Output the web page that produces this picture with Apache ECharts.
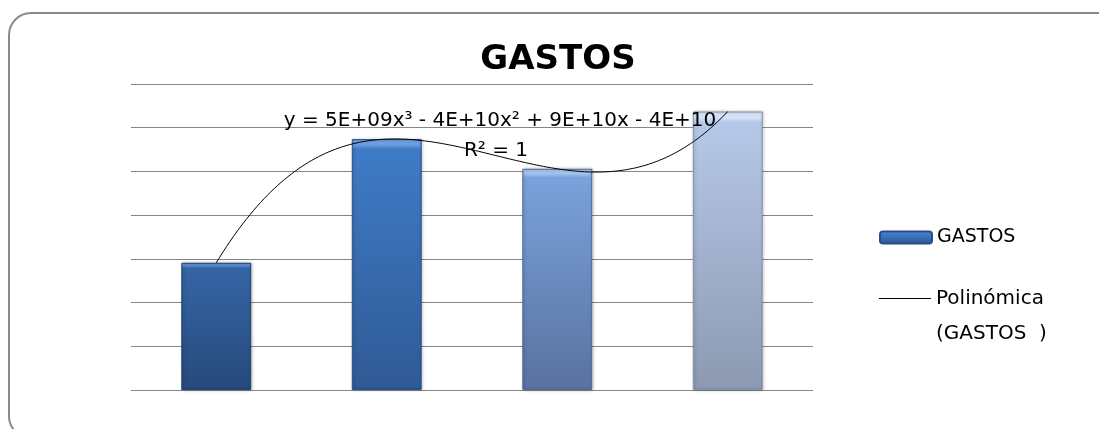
<!DOCTYPE html>
<html>
<head>
<meta charset="utf-8">
<script src="https://cdn.jsdelivr.net/npm/echarts@6/dist/echarts.min.js"></script>
<style>
html,body{margin:0;padding:0;background:#ffffff;}
#chart{width:1099px;height:429px;}
</style>
</head>
<body>
<div id="chart"></div>
<script>
// ---- data (values in thousands of millions) ----
const categories = ['1', '2', '3', '4'];
const gastos = [14.55, 28.7, 25.3, 31.85];
const seriesName = 'GASTOS';
const trendName = 'Polinómica (GASTOS  )';
const trendLegendLines = ['Polinómica', '(GASTOS  )'];
const titleText = 'GASTOS';
const equationText = 'y = 5E+09x³ - 4E+10x² + 9E+10x - 4E+10';
const r2Text = 'R² = 1';
const yMin = 0, yMax = 35, yStep = 5;

// ---- styles ----
const FONT = 'DejaVu Sans';
const barHighlight = ['#5b8dd0', '#6c9ee0', '#a3c1ec', '#d6e2f5'];
const barTop = ['#3465a6', '#3f7bc6', '#7aa2dc', '#b6c8e8'];
const barBottom = ['#27497a', '#2f5a95', '#59729f', '#8c99b1'];
const barEdge = ['#22406b', '#2a5187', '#51699a', '#8391aa'];

// polynomial (order 3) trendline: least squares fit of the bar values (exact for 4 points)
const xs = categories.map((_, i) => i + 1);
function trend(x) {
  let s = 0;
  for (let i = 0; i < xs.length; i++) {
    let p = gastos[i];
    for (let j = 0; j < xs.length; j++) {
      if (j !== i) p *= (x - xs[j]) / (xs[i] - xs[j]);
    }
    s += p;
  }
  return s;
}
const trendData = [];
for (let k = 0; k <= 150; k++) {
  const x = xs[0] + (xs[xs.length - 1] - xs[0]) * k / 150;
  trendData.push([x, trend(x)]);
}

const chart = echarts.init(document.getElementById('chart'), null, {renderer: 'canvas'});
chart.setOption({
  backgroundColor: '#ffffff',
  animation: false,
  title: {
    text: titleText,
    left: 558, top: 43, textAlign: 'center', padding: 0,
    textStyle: {fontFamily: FONT, fontWeight: 'bold', fontSize: 34, color: '#000000'}
  },
  legend: [
    {
      data: [seriesName], orient: 'vertical', left: 879, top: 228, padding: 0,
      itemWidth: 52, itemHeight: 12, itemGap: 0,
      textStyle: {fontFamily: FONT, fontSize: 19, color: '#000000'}
    },
    {
      data: [{name: trendName, icon: 'rect', itemStyle: {color: '#000000', borderWidth: 0}}],
      orient: 'vertical', left: 879, top: 246, padding: 0,
      itemWidth: 52, itemHeight: 1, itemGap: 0,
      formatter: function () { return ' \n' + trendLegendLines.join('\n'); },
      textStyle: {fontFamily: FONT, fontSize: 20, color: '#000000', lineHeight: 35}
    }
  ],
  grid: {left: 131, right: 286, top: 84, bottom: 39, containLabel: false},
  xAxis: [
    {type: 'category', data: categories, boundaryGap: true,
     axisLine: {show: false}, axisTick: {show: false}, axisLabel: {show: false}, splitLine: {show: false}},
    {type: 'value', min: 0.5, max: 4.5, show: false}
  ],
  yAxis: {
    type: 'value', min: yMin, max: yMax, interval: yStep,
    axisLine: {show: false}, axisTick: {show: false}, axisLabel: {show: false},
    splitLine: {show: true, lineStyle: {color: '#858585', width: 1}}
  },
  series: [
    {
      name: seriesName, type: 'bar', xAxisIndex: 0, barWidth: '41%', z: 2,
      itemStyle: {
        color: new echarts.graphic.LinearGradient(0, 0, 0, 1, [
          {offset: 0, color: '#6a9ee0'}, {offset: 0.25, color: '#3f7bc6'}, {offset: 1, color: '#2c5692'}
        ]),
        borderColor: '#264d85', borderWidth: 1
      },
      data: gastos.map((v, i) => ({
        value: v,
        itemStyle: {
          color: new echarts.graphic.LinearGradient(0, 0, 0, 1, [
            {offset: 0, color: barHighlight[i]},
            {offset: 0.022, color: barHighlight[i]},
            {offset: 0.04, color: barTop[i]},
            {offset: 1, color: barBottom[i]}
          ]),
          borderColor: barEdge[i], borderWidth: 1,
          shadowColor: 'rgba(0,0,0,0.25)', shadowBlur: 3, shadowOffsetX: 1, shadowOffsetY: 0
        }
      }))
    },
    {
      name: trendName, type: 'line', xAxisIndex: 1, z: 5,
      symbol: 'none', showSymbol: false, smooth: false,
      lineStyle: {color: '#000000', width: 1},
      itemStyle: {color: '#000000'},
      data: trendData
    }
  ],
  graphic: [
    {type: 'rect', silent: true, z: 0,
     shape: {x: 9, y: 13, width: 1110, height: 425, r: 22},
     style: {fill: null, stroke: '#8a8a8a', lineWidth: 2}},
    {type: 'text', silent: true, z: 10, x: 500, y: 121,
     style: {text: equationText, font: '20px "DejaVu Sans"', fill: '#000000', align: 'center', verticalAlign: 'middle'}},
    {type: 'text', silent: true, z: 10, x: 496, y: 151,
     style: {text: r2Text, font: '20px "DejaVu Sans"', fill: '#000000', align: 'center', verticalAlign: 'middle'}}
  ]
});
</script>
</body>
</html>
